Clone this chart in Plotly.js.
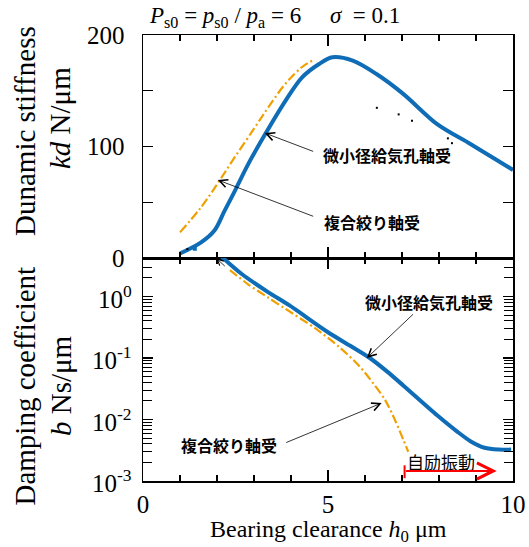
<!DOCTYPE html>
<html><head><meta charset="utf-8">
<script src="https://cdn.plot.ly/plotly-3.0.1.min.js"></script>
<style>body{margin:0;background:#fff}#g{width:529px;height:547px}</style>
</head><body><div id="g"></div>
<script>
// ---- data ----
var hKdMicro = [1.0, 1.57, 1.93, 2.2, 2.48, 2.84, 3.30, 3.85, 4.30, 4.76, 5.12, 5.67, 6.31, 7.04, 7.95, 8.86, 10.0];
var kdMicro  = [4, 14, 24.6, 42, 60, 84, 111, 141, 162, 174, 180, 177, 165, 147, 120, 102, 79];
var hKdComp  = [1.0, 1.57, 2.07, 2.48, 3.03, 3.39, 3.85, 4.30, 4.62];
var kdComp   = [23, 45.5, 69.5, 90.4, 117.4, 135.3, 156.3, 171.3, 177.8];

var hBMicro = [2.11, 2.66, 3.39, 3.94, 4.99, 5.60, 6.13, 6.60, 7.04, 7.95, 8.50, 8.86, 9.23, 9.60, 9.95];
var bMicro  = [4.52, 2.34, 1.17, 0.73, 0.265, 0.158, 0.100, 0.060, 0.0355, 0.0117, 0.0063, 0.0044, 0.00347, 0.00324, 0.00324];
var hBComp  = [2.35, 2.84, 3.39, 3.85, 4.67, 5.31, 5.85, 6.22, 6.54, 6.81, 7.04, 7.17];
var bComp   = [2.69, 1.58, 0.955, 0.63, 0.30, 0.150, 0.0735, 0.0389, 0.0209, 0.00984, 0.00463, 0.00299];

var strayH  = [6.32, 6.91, 7.27, 8.24, 8.35, 1.20];
var strayKd = [134.7, 128.8, 123.1, 107.3, 103, 8];
var blueDotH = [1.40], blueDotKd = [8.3];

var selfExcH = [7.07, 7.07];
var selfExcB = [0.00180, 0.00111];

var xTickVals = [0, 5, 10];
var kdTickVals = [0, 100, 200];
var kdTickText = ['0', '100', '200'];
var kdMinor = [50, 150];
var bTickVals = [0.001, 0.01, 0.1, 1];
var bTickText = ['10<sup>-3</sup>', '10<sup>-2</sup>', '10<sup>-1</sup>', '10<sup>0</sup>'];
var bMinor = [0.002,0.003,0.004,0.005,0.006,0.007,0.008,0.009,
              0.02,0.03,0.04,0.05,0.06,0.07,0.08,0.09,
              0.2,0.3,0.4,0.5,0.6,0.7,0.8,0.9,
              2,3,4];

var BLUE = '#0f6cb6', ORANGE = '#f0a000';
var serif = '"Liberation Serif", "Times New Roman", Times, serif';
var cjk = '"Noto Sans CJK JP", sans-serif';

var traces = [
  {x: hKdMicro, y: kdMicro, xaxis:'x', yaxis:'y', mode:'lines', line:{color:BLUE, width:4, shape:'spline', smoothing:0.9}},
  {x: hKdComp, y: kdComp, xaxis:'x', yaxis:'y', mode:'lines', line:{color:ORANGE, width:2.2, dash:'9px,3px,2px,3px', shape:'spline'}},
  {x: hBMicro, y: bMicro, xaxis:'x2', yaxis:'y2', mode:'lines', line:{color:BLUE, width:4, shape:'spline', smoothing:0.8}},
  {x: hBComp, y: bComp, xaxis:'x2', yaxis:'y2', mode:'lines', line:{color:ORANGE, width:2.2, dash:'9px,3px,2px,3px', shape:'spline', smoothing:0.8}},
  {x: strayH, y: strayKd, xaxis:'x', yaxis:'y', mode:'markers', marker:{color:'#000', size:2, symbol:'square'}},
  {x: blueDotH, y: blueDotKd, xaxis:'x', yaxis:'y', mode:'markers', marker:{color:BLUE, size:4, symbol:'square'}},
  {x: selfExcH, y: selfExcB, xaxis:'x2', yaxis:'y2', mode:'lines', line:{color:'#ff0000', width:2}}
];

function xax(anchor, labels){
  return {anchor:anchor, range:[0,10], showline:true, linecolor:'#000', linewidth:1.5, mirror:'allticks',
    ticks:'inside', ticklen:11, tickwidth:1.2, tickcolor:'#000', tickmode:'array', tickvals:xTickVals,
    showticklabels:labels, ticklabelstandoff:0,
    minor:{ticks:'inside', dtick:1, ticklen:6, tickwidth:1.2, tickcolor:'#000', showgrid:false},
    showgrid:false, zeroline:false, tickfont:{family:serif, size:25, color:'#000'}};
}

function ann(x, y, text, size, angle){
  return {xref:'paper', yref:'paper', x:x, y:y, xanchor:'center', yanchor:'middle', text:text, textangle:angle||0,
    showarrow:false, font:{family:serif, size:size, color:'#000'}};
}

var annotations = [
    ann(-0.3189, 0.7848, 'Dunamic stiffness', 29, -90),
    ann(-0.2243, 0.8139, '<i>kd</i> N/μm', 29, -90),
    ann(-0.3189, 0.2119, 'Damping coefficient', 29, -90),
    ann(-0.2216, 0.2130, '<i>b</i> Ns/μm', 29, -90),
    ann(0.5027, -0.1121, 'Bearing clearance <i>h</i><sub>0</sub> μm', 24, 0),
    {xref:'paper', yref:'paper', x:0.0108, y:1.0404, xanchor:'left', yanchor:'middle', text:'<i>P</i><sub>s0</sub> = <i>p</i><sub>s0</sub> / <i>p</i><sub>a</sub> = 6\u00a0\u00a0\u00a0\u00a0\u00a0<i>σ</i>\u00a0 = 0.1', showarrow:false, font:{family:serif, size:23, color:'#000'}},

    {xref:'x', yref:'y', x:6.59, y:92.4, text:'<b>微小径給気孔軸受</b>', showarrow:false, font:{family:cjk, size:16, color:'#000'}},
    {xref:'x', yref:'y', x:3.29, y:112.1, axref:'x', ayref:'y', ax:4.64, ay:95.1, text:'', showarrow:true, arrowhead:5, arrowsize:2, arrowwidth:0.8, arrowcolor:'#000', standoff:0},
    {xref:'x', yref:'y', x:6.19, y:32.5, text:'<b>複合絞り軸受</b>', showarrow:false, font:{family:cjk, size:16, color:'#000'}},
    {xref:'x', yref:'y', x:2.02, y:70.0, axref:'x', ayref:'y', ax:4.64, ay:36.9, text:'', showarrow:true, arrowhead:5, arrowsize:2, arrowwidth:0.8, arrowcolor:'#000', standoff:0},

    {xref:'x2', yref:'y2', x:7.74, y:-0.086, text:'<b>微小径給気孔軸受</b>', showarrow:false, font:{family:cjk, size:16, color:'#000'}},
    {xref:'x2', yref:'y2', x:6.05, y:-1.0, axref:'x2', ayref:'y2', ax:7.34, ay:-0.266, text:'', showarrow:true, arrowhead:5, arrowsize:2, arrowwidth:0.8, arrowcolor:'#000', standoff:0},
    {xref:'x2', yref:'y2', x:2.33, y:-2.418, text:'<b>複合絞り軸受</b>', showarrow:false, font:{family:cjk, size:16, color:'#000'}},
    {xref:'x2', yref:'y2', x:6.45, y:-1.733, axref:'x2', ayref:'y2', ax:3.83, ay:-2.385, text:'', showarrow:true, arrowhead:5, arrowsize:2, arrowwidth:0.8, arrowcolor:'#000', standoff:0},
    {xref:'x2', yref:'y2', x:1.98, y:0.62, ax:10, ay:9, text:'', showarrow:true, arrowhead:5, arrowsize:1.5, arrowwidth:0.8, arrowcolor:'#000', standoff:0},

    {xref:'x2', yref:'y2', x:8.05, y:-2.679, text:'自励振動', showarrow:false, font:{family:cjk, size:17, color:'#000'}},
    {xref:'x2', yref:'y2', x:9.56, y:-2.837, axref:'x2', ayref:'y2', ax:7.07, ay:-2.837, text:'', showarrow:true, arrowhead:5, arrowsize:1.6, arrowwidth:2, arrowcolor:'#ff0000', standoff:0}
];
// y-axis tick labels placed on the axes' own scales
kdTickVals.forEach(function(v, i){
  annotations.push({xref:'paper', yref:'y', x:-0.042, y:v, xanchor:'right', yanchor:'middle', text:kdTickText[i],
    showarrow:false, font:{family:serif, size:25, color:'#000'}});
});
bTickVals.forEach(function(v, i){
  annotations.push({xref:'paper', yref:'y2', x:-0.024, y:Math.log10(v), xanchor:'right', yanchor:'middle', text:bTickText[i],
    showarrow:false, font:{family:serif, size:25, color:'#000'}});
});

var layout = {
  width:529, height:547, margin:{l:143, r:16, t:35, b:66},
  paper_bgcolor:'#fff', plot_bgcolor:'#fff', showlegend:false,
  xaxis: xax('y', false),
  xaxis2: xax('y2', true),
  yaxis: {domain:[0.5,1], range:[0,200], anchor:'x', showline:true, linecolor:'#000', linewidth:1.5, mirror:'allticks',
    ticks:'inside', ticklen:10, tickwidth:1.2, tickcolor:'#000', tickmode:'array', tickvals:kdTickVals, showticklabels:false,
    minor:{ticks:'inside', tickmode:'array', tickvals:kdMinor, ticklen:10, tickwidth:1.2, tickcolor:'#000', showgrid:false},
    showgrid:false, zeroline:false},
  yaxis2: {domain:[0,0.5], type:'log', range:[-3,0.626], anchor:'x2', showline:true, linecolor:'#000', linewidth:1.5, mirror:'allticks',
    ticks:'inside', ticklen:10, tickwidth:1.2, tickcolor:'#000', tickmode:'array', tickvals:bTickVals, showticklabels:false,
    minor:{ticks:'inside', tickmode:'array', tickvals:bMinor, ticklen:9, tickwidth:1, tickcolor:'#000', showgrid:false},
    showgrid:false, zeroline:false},
  annotations: annotations
};

Plotly.newPlot('g', traces, layout, {staticPlot:true, displayModeBar:false});
</script></body></html>
